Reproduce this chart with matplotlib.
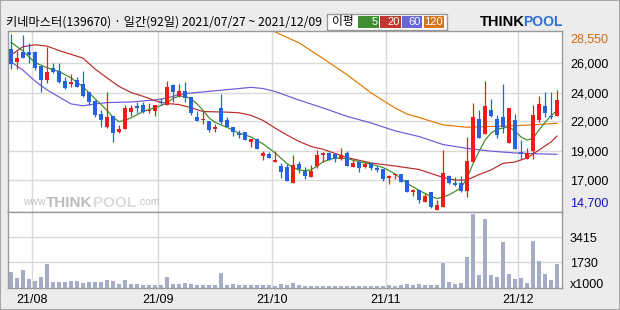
import matplotlib
matplotlib.use("Agg")
import matplotlib.pyplot as plt
from matplotlib.patches import Rectangle
from matplotlib.transforms import blended_transform_factory

# -----------------------------
# DATA
# -----------------------------
TITLE = "키네마스터(139670) · 일간(92일) 2021/07/27 ~ 2021/12/09"

# daily candles, 2021/07/27 .. 2021/12/09 (92 trading days)
opens = [27350, 26350, 27100, 27100, 27100, 26000, 24950, 25850, 25650, 24850,
         24600, 24950, 24600, 24000, 23300, 22250, 21250, 22100, 20850, 21050,
         22400, 22900, 22950, 22500, 22500, 23200, 23000, 24500, 23700, 24050,
         23600, 22050, 21800, 21700, 21050, 22700, 21800, 21250, 20750, 20800,
         20050, 20300, 18950, 19100, 18500, 18150, 18050, 16850, 18300, 17750,
         17300, 18200, 19050, 19150, 19100, 18750, 19150, 18100, 18450, 18100,
         18400, 18000, 17900, 17250, 17450, 17550, 17050, 16150, 16250, 15350,
         16100, 14700, 14900, 17400, 16800, 16800, 16200, 18500, 21850, 20700,
         22550, 21850, 22000, 19950, 21800, 19250, 18700, 19350, 21800, 22850,
         22100, 22100]
highs = [28550, 27200, 28500, 27850, 27250, 26000, 27500, 26250, 26250, 25200,
         25400, 25200, 25600, 24000, 23350, 22550, 24000, 22100, 21400, 22950,
         22950, 23200, 23200, 23100, 22950, 23500, 24850, 24600, 24600, 24750,
         23600, 22500, 22500, 21700, 21500, 23850, 22000, 21250, 21000, 20850,
         20300, 20400, 19350, 19300, 19350, 18400, 18300, 19050, 18550, 18050,
         18250, 19400, 19300, 19300, 19150, 19550, 19350, 18600, 18500, 18450,
         18450, 18200, 17900, 17450, 17550, 17550, 17050, 16350, 16250, 16000,
         16150, 15500, 19400, 17450, 17300, 17400, 20450, 23100, 22550, 24850,
         23450, 22150, 24600, 22700, 22250, 20200, 19600, 22950, 23700, 23950,
         23950, 24150]
lows = [25800, 25800, 26650, 26250, 25700, 24000, 24700, 25500, 24700, 24200,
        24400, 24400, 23600, 22950, 22000, 21250, 21150, 20050, 20750, 21050,
        22100, 22350, 22350, 22350, 22100, 22950, 23000, 23200, 23600, 23200,
        22150, 21700, 21450, 20800, 20850, 21500, 21200, 20550, 20350, 20200,
        19650, 19500, 18650, 18800, 18500, 17200, 16950, 16850, 17600, 17150,
        17300, 18000, 18500, 18600, 18500, 18650, 18200, 18050, 17700, 18000,
        17850, 17700, 17000, 16750, 17150, 16900, 16100, 15800, 15250, 15350,
        14850, 14700, 14900, 16750, 16550, 16150, 15700, 18500, 20400, 20700,
        22000, 20400, 20750, 19950, 19500, 18700, 18700, 18750, 21650, 22050,
        21900, 22100]
closes = [26200, 26650, 26700, 26900, 25850, 24950, 25550, 25550, 24800, 24300,
          24800, 24400, 23700, 23200, 22150, 21800, 22050, 20750, 21100, 22700,
          22750, 22750, 22450, 22550, 22950, 23100, 24400, 23950, 24050, 23500,
          22300, 21700, 21850, 21000, 21250, 21600, 21200, 20850, 20600, 20200,
          20300, 19500, 19200, 18800, 18600, 17700, 17000, 18250, 17950, 17400,
          17750, 19050, 19150, 18650, 18700, 19000, 18200, 18400, 18000, 18300,
          18000, 17850, 17150, 17400, 17550, 16900, 16150, 16250, 15500, 15800,
          14900, 15100, 17600, 16800, 16650, 16200, 18550, 22050, 20400, 22900,
          22100, 20600, 21250, 22700, 19500, 19100, 19150, 22150, 23050, 22300,
          22000, 23350]
# volume, x1000 shares
volumes = [1090, 681, 1203, 590, 454, 726, 1612, 386, 386, 386,
           454, 454, 363, 386, 386, 386, 568, 477, 250, 568,
           272, 272, 227, 182, 182, 182, 726, 250, 295, 318,
           295, 227, 182, 182, 182, 1000, 227, 250, 182, 182,
           182, 182, 182, 182, 160, 250, 204, 318, 204, 114,
           114, 160, 114, 114, 136, 160, 160, 114, 160, 114,
           114, 136, 114, 182, 160, 182, 250, 182, 250, 204,
           204, 204, 1680, 386, 295, 318, 2088, 5017, 863, 4676,
           863, 726, 3110, 931, 590, 658, 318, 3178, 1793, 931,
           522, 1612]

# moving averages (day index, price)
ma5_idx = [0, 2, 4, 6, 8, 10, 12, 14, 16, 17, 18, 19, 20, 22, 24, 26, 27, 28, 29,
           30, 31, 32, 33, 34, 36, 38, 40, 42, 44, 46, 47, 48, 49, 50, 51, 52, 54,
           56, 58, 60, 62, 64, 66, 68, 70, 71, 72, 73, 74, 75, 76, 77, 78, 79, 80,
           81, 82, 83, 84, 85, 86, 87, 88, 89, 90, 91]
ma5_val = [27900, 27200, 26300, 25900, 25600, 25100, 24400, 23450, 22550, 22000,
           21650, 21750, 21950, 22450, 22750, 23100, 23500, 23650, 23650, 23450,
           23050, 22550, 21950, 21600, 21200, 20750, 20450, 19900, 19200, 18350,
           18050, 17850, 17800, 17850, 18150, 18500, 18800, 18750, 18500, 18300,
           18050, 17550, 16800, 16250, 15750, 15600, 15700, 15900, 16150, 16450,
           17200, 18350, 19300, 20200, 20750, 21050, 21150, 21250, 20900, 20450,
           20200, 20350, 21000, 21600, 22100, 22550]
ma20_idx = [0, 2, 4, 6, 8, 10, 12, 14, 16, 18, 20, 22, 24, 26, 28, 30, 31, 32, 36,
            38, 40, 42, 44, 46, 48, 50, 52, 56, 60, 64, 68, 72, 74, 76, 78, 80, 82,
            84, 86, 88, 90, 91]
ma20_val = [26900, 27550, 27700, 27600, 27250, 26950, 26650, 25800, 25100, 24420,
            23950, 23650, 23300, 23080, 23000, 22750, 22600, 22450, 22400, 22350,
            22150, 21750, 21150, 20600, 20100, 19700, 19480, 18830, 18400, 18160,
            17890, 17260, 17060, 17060, 17490, 17850, 18370, 18480, 18790, 19420,
            20050, 20520]
ma60_idx = [0, 2, 4, 6, 8, 10, 12, 14, 16, 20, 24, 26, 28, 30, 32, 36, 40, 42, 44,
            48, 52, 56, 60, 64, 68, 72, 76, 80, 84, 88, 91]
ma60_val = [26350, 25700, 24850, 24150, 23600, 23050, 22900, 23050, 23150, 23200,
            23360, 23510, 23790, 23910, 23990, 24170, 24350, 24260, 24030, 23350,
            22730, 22070, 21550, 20930, 20480, 19850, 19550, 19330, 19190, 19120,
            19080]
ma120_idx = [44, 48, 52, 56, 60, 64, 66, 68, 72, 76, 80, 84, 88, 91]
ma120_val = [28710, 27860, 26620, 25350, 23920, 22730, 22250, 21980, 21400, 21210,
             21270, 21330, 21430, 21520]

price_max, price_min = 28550, 14700
grid_vals = [17060, 19340, 21700, 23900, 26270]
grid_labels = ["17,000", "19,000", "22,000", "24,000", "26,000"]
vol_ticks = [1730, 3415]
month_idx = [4, 25, 44, 63, 85]
month_labels = ["21/08", "21/09", "21/10", "21/11", "21/12"]
ma_labels = ["5", "20", "60", "120"]

# -----------------------------
# STYLE
# -----------------------------
UP, DOWN = "#f01c1c", "#2462e0"
MA_COLORS = ["#3a8c23", "#b82a2a", "#6a5ad8", "#e07800"]
BOX_COLORS = ["#3f8f2f", "#c3352e", "#6666d8", "#d9731a"]
GRID = "#d9d9d9"
EDGE = "#9a9a9a"
W, H = 620, 310
KR = ["Noto Sans CJK KR", "DejaVu Sans"]
NUM = "Liberation Sans"


def px(x):
    return x / W


def py(y):
    return 1 - y / H


fig = plt.figure(figsize=(6.2, 3.1), dpi=100, facecolor="#ececec")
ax = fig.add_axes([px(8), py(212), px(562) - px(8), py(31) - py(212)])
axv = fig.add_axes([px(8), py(288), px(562) - px(8), py(212) - py(288)])

n = len(closes)
xs = list(range(n))

# candles
for i in xs:
    o, h, l, c = opens[i], highs[i], lows[i], closes[i]
    col = UP if c > o else DOWN
    ax.vlines(i, l, h, color=col, linewidth=0.9, zorder=3)
    ax.bar(i, max(abs(c - o), 70), bottom=min(o, c), width=0.74,
           color=col, linewidth=0, zorder=4)

# moving averages
for idx, val, col in [(ma120_idx, ma120_val, MA_COLORS[3]),
                      (ma60_idx, ma60_val, MA_COLORS[2]),
                      (ma20_idx, ma20_val, MA_COLORS[1]),
                      (ma5_idx, ma5_val, MA_COLORS[0])]:
    ax.plot(idx, val, color=col, linewidth=0.85, zorder=2)

# volume
axv.bar(xs, volumes, width=0.66, color="#a5adc4", linewidth=0, zorder=3)

for a in (ax, axv):
    a.set_xlim(-0.5, 91.83)
    a.set_facecolor("white")
    a.set_axisbelow(True)
    for m in month_idx:
        a.axvline(m - 0.5, color=GRID, linewidth=1.0, zorder=0.5)
    for s in a.spines.values():
        s.set_color(EDGE)
        s.set_linewidth(1.0)
    a.yaxis.tick_right()
    a.tick_params(length=0, pad=5.8, labelsize=9, labelfontfamily=NUM)

ax.set_ylim(14542, 28786)
ax.set_yticks(grid_vals)
ax.set_yticklabels(grid_labels)
ax.yaxis.grid(True, color=GRID, linewidth=1.0)
ax.set_xticks([])

tr = blended_transform_factory(ax.transAxes, ax.transData)
ax.text(1.0144, price_max, f"{price_max:,}", transform=tr, va="top", ha="left",
        fontsize=9, family=NUM, color="#d06a10")
ax.text(1.0144, price_min, f"{price_min:,}", transform=tr, va="bottom", ha="left",
        fontsize=9, family=NUM, color="#1010c0")

axv.set_ylim(0, 5120)
axv.set_yticks(vol_ticks)
axv.set_yticklabels([str(v) for v in vol_ticks])
axv.yaxis.grid(True, color=GRID, linewidth=1.0)
axv.set_xticks([m - 0.5 for m in month_idx])
axv.set_xticklabels(month_labels)
axv.tick_params(axis="x", pad=4.5)
fig.text(px(570), py(285.5), "x1000", fontsize=9, family=NUM, va="center")

# watermark
ax.text(px(23), py(205), "www.", transform=fig.transFigure, fontsize=7.5,
        family=NUM, color="#c4c4c4", va="baseline", zorder=0.6)
ax.text(px(46), py(207), "THINK", transform=fig.transFigure, fontsize=11,
        family=NUM, weight="bold", color="#bdbdbd", va="baseline", zorder=0.6)
ax.text(px(92.5), py(207), "POOL", transform=fig.transFigure, fontsize=11,
        family=NUM, weight="bold", color="#dadada", va="baseline", zorder=0.6)
ax.text(px(137), py(205), ".com", transform=fig.transFigure, fontsize=7.5,
        family=NUM, color="#c4c4c4", va="baseline", zorder=0.6)

# header
fig.text(px(6), py(22), TITLE, fontsize=8.8, family=KR, va="center", ha="left")

fig.patches.append(Rectangle((px(327), py(30)), px(120), 16 / H, transform=fig.transFigure,
                             facecolor="white", edgecolor=EDGE, linewidth=1.0))
fig.text(px(332), py(22), "이평", fontsize=8.5, family=KR, va="center", ha="left")
box_x = [(358, 379), (380, 401), (402, 422), (424, 444)]
for (x0, x1), lab, col in zip(box_x, ma_labels, BOX_COLORS):
    fig.patches.append(Rectangle((px(x0), py(28)), px(x1 - x0), 12 / H,
                                 transform=fig.transFigure, facecolor=col,
                                 edgecolor="none"))
    fig.text(px(x1 - 1.5), py(22.3), lab, fontsize=8, family=NUM, color="white",
             va="center", ha="right")

fig.text(px(480), py(21.5), "THINK", fontsize=10.5, family=NUM, weight="bold",
         color="black", va="center", ha="left")
fig.text(px(523.5), py(21.5), "POOL", fontsize=10, family=NUM, weight="bold",
         color="#2f6fd0", va="center", ha="left")

fig.patches.append(Rectangle((0, 0), 1, 1, transform=fig.transFigure,
                             facecolor="none", edgecolor="#a8a8a8", linewidth=1.5))

fig.savefig("out.png", dpi=100, facecolor=fig.get_facecolor())
